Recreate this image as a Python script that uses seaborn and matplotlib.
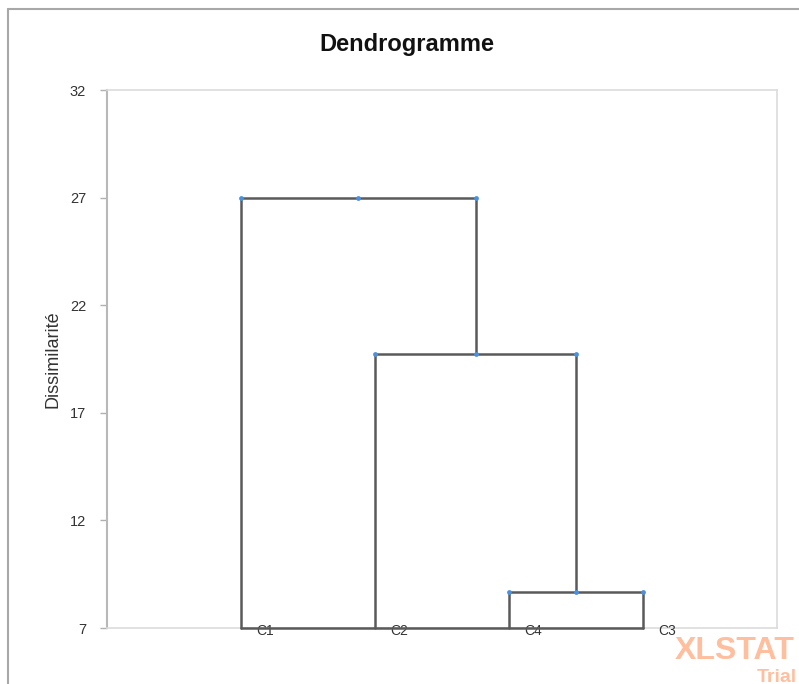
import matplotlib
matplotlib.use("Agg")
import matplotlib.pyplot as plt
from matplotlib.lines import Line2D
import seaborn as sns
import pandas as pd

# ---- data ----
leaves = ["C1", "C2", "C4", "C3"]
# merges: (left child, right child, height); children are leaf names or merge index "M0".."M2"
merge_left = ["C4", "C2", "C1"]
merge_right = ["C3", "M0", "M1"]
merge_height = [8.67, 19.73, 27.0]
y_ticks = [7, 12, 17, 22, 27, 32]
y_min, y_max = 7, 32

sns.set_theme(style="white")
plt.rcParams['font.family'] = ['Liberation Sans', 'DejaVu Sans']

# positions of nodes
pos = {name: i + 1 for i, name in enumerate(leaves)}
hgt = {name: y_min for name in leaves}
seg_rows = []
node_rows = []
for k, (a, b, h) in enumerate(zip(merge_left, merge_right, merge_height)):
    xa, xb = pos[a], pos[b]
    ya, yb = hgt[a], hgt[b]
    uid = f"M{k}"
    for order, (x, y) in enumerate([(xa, ya), (xa, h), (xb, h), (xb, yb)]):
        seg_rows.append({"link": uid, "order": order, "x": x, "y": y})
    mid = (xa + xb) / 2
    for x in (xa, mid, xb):
        node_rows.append({"x": x, "y": h})
    pos[uid] = mid
    hgt[uid] = h
segs = pd.DataFrame(seg_rows)
nodes = pd.DataFrame(node_rows)
base = pd.DataFrame({"link": "base", "order": [0, 1],
                     "x": [pos[leaves[0]], pos[leaves[-1]]], "y": [y_min, y_min]})

fig = plt.figure(figsize=(7.99, 6.84), dpi=100)
ax = fig.add_axes([107 / 799, 56 / 684, 670 / 799, 538 / 684])

sns.lineplot(data=pd.concat([base, segs]), x="x", y="y", units="link",
             estimator=None, sort=False, color="#5a5a5a", linewidth=1.8, ax=ax,
             legend=False)
for ln in ax.lines:
    ln.set_clip_on(False)
    ln.set_zorder(4)
sns.scatterplot(data=nodes, x="x", y="y", color="#4a90e2", s=12, linewidth=0,
                ax=ax, zorder=5, legend=False)

for name in leaves:
    ax.annotate(name, (pos[name], y_min), xytext=(11, -2), textcoords="offset points",
                ha="left", va="center", fontsize=10, color="#333333")

ax.set_xlim(0, len(leaves) + 1)
ax.set_ylim(y_min, y_max)
ax.set_yticks(y_ticks)
ax.set_yticklabels([str(t) for t in y_ticks], fontsize=10.5, color="#333333")
ax.set_xticks([])
ax.set_xlabel("")
ax.set_ylabel("Dissimilarité", fontsize=13, color="#333333", labelpad=6)
ax.tick_params(axis="y", direction="out", length=5, width=1, color="#b0b0b0",
               left=True, pad=10)
for side in ["top", "right", "bottom"]:
    ax.spines[side].set_color("#dcdcdc")
    ax.spines[side].set_linewidth(1.2)
ax.spines["left"].set_color("#b8b8b8")
ax.spines["left"].set_linewidth(1.5)

fig.text(407 / 799, 1 - 44 / 684, "Dendrogramme", ha="center", va="center",
         fontsize=17, fontweight="bold", color="#111111")

# outer frame
fig.add_artist(Line2D([8 / 799, 8 / 799], [0, 1 - 9 / 684], transform=fig.transFigure,
                      color="#a8a8a8", linewidth=1.5))
fig.add_artist(Line2D([8 / 799, 1], [1 - 9 / 684, 1 - 9 / 684], transform=fig.transFigure,
                      color="#a8a8a8", linewidth=1.5))

# watermark
fig.text(675 / 799, 1 - 651 / 684, "XLSTAT", ha="left", va="center", fontsize=23,
         fontweight="bold", color="#ffbf9f")
fig.text(757 / 799, 1 - 677 / 684, "Trial", ha="left", va="center", fontsize=14,
         fontweight="bold", color="#ffbf9f")

fig.savefig("out.png", dpi=100)
